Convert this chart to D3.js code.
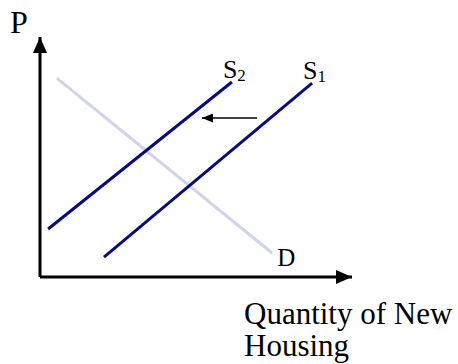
<!DOCTYPE html>
<html>
<head>
<meta charset="utf-8">
<script src="https://cdn.jsdelivr.net/npm/d3@7"></script>
<style>
  body { margin: 0; background: #fff; }
  text { font-family: "Liberation Serif", "Times New Roman", serif; fill: #000; }
</style>
</head>
<body>
<svg id="chart" width="458" height="364"></svg>
<script>
// curves, in quantity / price units (0..100)
const demand = [[5.4, 82.9], [74.4, 10]];
const supply1 = [[20.5, 8.3], [87.2, 80.8]];
const supply2 = [[2.6, 20], [61.5, 81.25]];
const shift = [[69.6, 66.25], [51.9, 66.25]];

const svg = d3.select("#chart");

const x = d3.scaleLinear().domain([0, 100]).range([40, 352]);
const y = d3.scaleLinear().domain([0, 100]).range([277, 37]);

const line = d3.line().x(d => x(d[0])).y(d => y(d[1]));

const defs = svg.append("defs");
defs.append("marker")
    .attr("id", "axisHead")
    .attr("viewBox", "0 0 16 14")
    .attr("refX", 16).attr("refY", 7)
    .attr("markerWidth", 16).attr("markerHeight", 14)
    .attr("markerUnits", "userSpaceOnUse")
    .attr("orient", "auto")
    .append("path").attr("d", "M0,0L16,7L0,14Z").attr("fill", "#000");
defs.append("marker")
    .attr("id", "shiftHead")
    .attr("viewBox", "0 0 11 9")
    .attr("refX", 11).attr("refY", 4.5)
    .attr("markerWidth", 11).attr("markerHeight", 9)
    .attr("markerUnits", "userSpaceOnUse")
    .attr("orient", "auto")
    .append("path").attr("d", "M0,0L11,4.5L0,9Z").attr("fill", "#000");

// axes
svg.append("path")
    .attr("d", line([[0, 0], [0, 100]]))
    .attr("stroke", "#000").attr("stroke-width", 3)
    .attr("fill", "none")
    .attr("marker-end", "url(#axisHead)");
svg.append("path")
    .attr("d", line([[0, 0], [100, 0]]))
    .attr("stroke", "#000").attr("stroke-width", 3)
    .attr("fill", "none")
    .attr("marker-end", "url(#axisHead)");

// demand
svg.append("path")
    .attr("d", line(demand))
    .attr("stroke", "#d2d2ec").attr("stroke-width", 3)
    .attr("fill", "none");

// supply curves
[supply1, supply2].forEach(function (s) {
    svg.append("path")
        .attr("d", line(s))
        .attr("stroke", "#0a0a80").attr("stroke-width", 3)
        .attr("fill", "none");
});

// shift arrow
svg.append("path")
    .attr("d", line(shift))
    .attr("stroke", "#000").attr("stroke-width", 1.5)
    .attr("fill", "none")
    .attr("marker-end", "url(#shiftHead)");

// labels
svg.append("text").attr("x", 10).attr("y", 33)
    .style("font-size", "32px").text("P");

function supplyLabel(pt, sub) {
    const t = svg.append("text")
        .attr("x", x(pt[0]) - 9).attr("y", y(pt[1]) - 4)
        .style("font-size", "26px");
    t.append("tspan").text("S");
    t.append("tspan").attr("dy", 3).style("font-size", "17px").text(sub);
}
supplyLabel(supply2[1], "2");
supplyLabel(supply1[1], "1");

svg.append("text")
    .attr("x", x(demand[1][0]) + 5).attr("y", y(demand[1][1]) + 13)
    .style("font-size", "25px").text("D");

svg.append("text").attr("x", 244).attr("y", 324)
    .style("font-size", "31px").text("Quantity of New");
svg.append("text").attr("x", 244).attr("y", 356)
    .style("font-size", "31px").text("Housing");
</script>
</body>
</html>
